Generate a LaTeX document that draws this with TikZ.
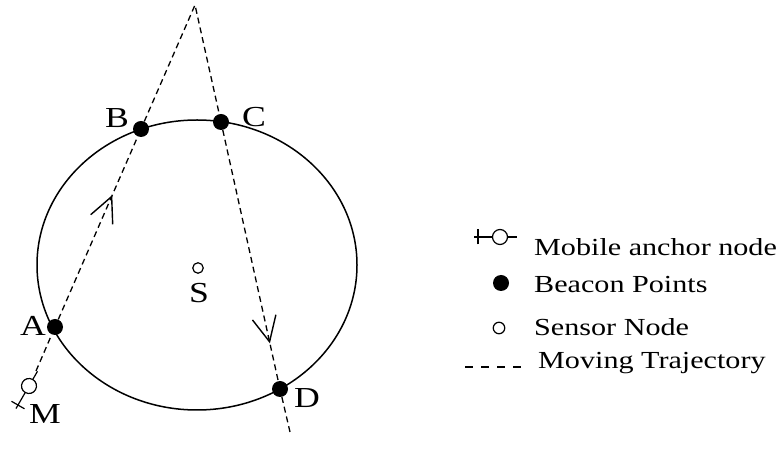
\documentclass[tikz,border=0pt]{standalone}
\usepackage{fontspec}
\setmainfont[FakeStretch=1.23]{Liberation Serif}
\usetikzlibrary{arrows.meta,decorations.markings}
\begin{document}
\begin{tikzpicture}[x=1pt,y=1pt,
  beacon/.style={circle,fill=black,inner sep=0pt,minimum size=16pt},
  sensor/.style={circle,draw,line width=1.2pt,inner sep=0pt,minimum size=10.5pt},
  traj/.style={line width=1.3pt,dash pattern=on 6pt off 4pt},
  legdash/.style={line width=1.3pt,dash pattern=on 8pt off 8pt},
  lbl/.style={inner sep=0pt,font=\fontsize{29}{32}\selectfont},
  legtext/.style={inner sep=0pt,anchor=base west,font=\fontsize{24.5}{28}\selectfont},
  arrowat/.style={postaction={decorate},decoration={markings,mark=at position #1 with {\arrow{Straight Barb[length=25pt,width=24pt,line width=1.4pt]}}}},
  mobile/.pic={
    \draw[line width=1.2pt] (0,0) circle (7.5pt);
    \draw[line width=1.2pt] (7.5,0) -- (17,0);
    \draw[line width=1.2pt] (-7.5,0) -- (-26,0);
    \draw[line width=1.2pt] (-22,-7.5) -- (-22,7.5);
  }
]
\useasboundingbox (0,0) rectangle (776,460);

% circle region
\draw[line width=1.5pt] (197,195) ellipse [x radius=160pt, y radius=145pt];

% points
\coordinate (apex) at (195,455);
\coordinate (E) at (290,28);
\coordinate (Ms) at (36,89);
\node[beacon] (A) at (55,133) {};
\node[beacon] (B) at (141,331) {};
\node[beacon] (C) at (221,338) {};
\node[beacon] (D) at (280,71) {};
\node[sensor] (S) at (198,192) {};
\pic[rotate=60] (M) at (29,74) {mobile};

% trajectory
\draw[traj] (Ms) -- (A);
\draw[traj,arrowat=0.68] (A) -- (B);
\draw[traj] (B) -- (apex) -- (C);
\draw[traj,arrowat=0.85] (C) -- (D);
\draw[traj] (D) -- (E);

% labels
\node[lbl] (lA) at (33,134) {A};
\node[lbl] (lB) at (117,342) {B};
\node[lbl] (lC) at (254,343) {C};
\node[lbl] (lD) at (307,62) {D};
\node[lbl] (lS) at (199,167) {S};
\node[lbl] (lM) at (45,46) {M};

% legend
\pic (legM) at (500,223) {mobile};
\node[beacon] (legB) at (501,177) {};
\node[sensor,minimum size=11.5pt] (legS) at (499,132) {};
\coordinate (legT1) at (465,93);
\coordinate (legT2) at (522,93);
\draw[legdash] (legT1) -- (legT2);
\node[legtext] (t1) at (534,204) {Mobile anchor node};
\node[legtext] (t2) at (534,167) {Beacon Points};
\node[legtext] (t3) at (534,124) {Sensor Node};
\node[legtext] (t4) at (538,91) {Moving Trajectory};
\end{tikzpicture}
\end{document}
